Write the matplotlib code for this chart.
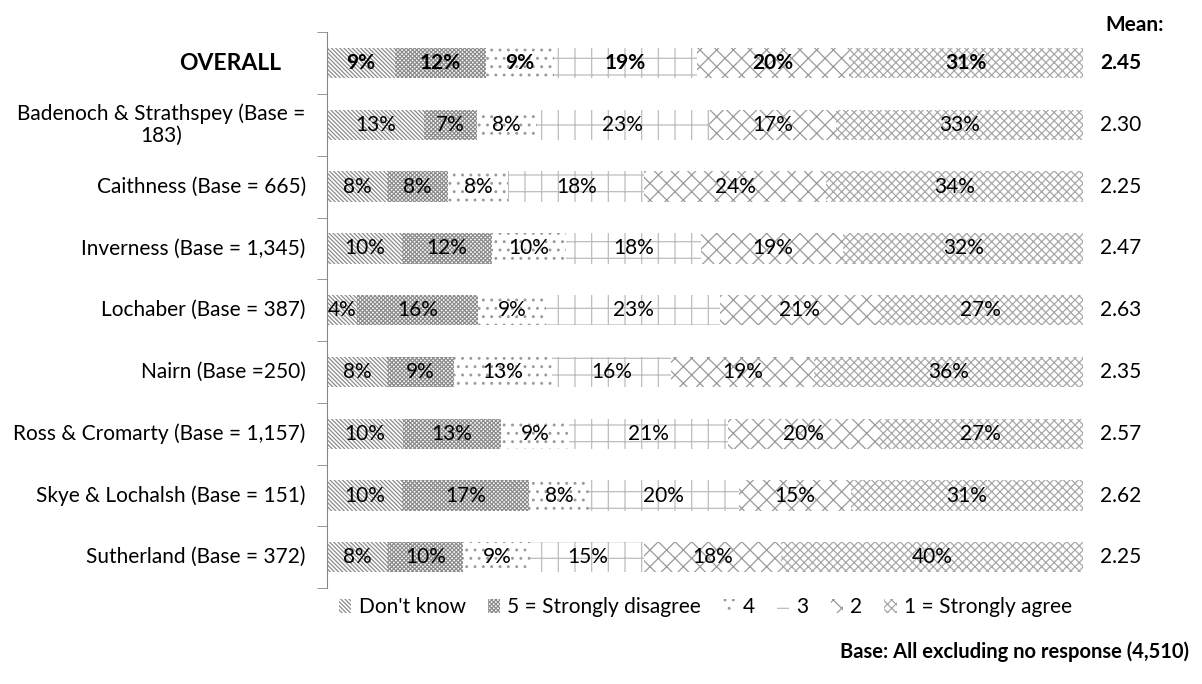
import matplotlib.pyplot as plt
import matplotlib.transforms as mtransforms
from matplotlib.patches import Patch
import numpy as np

plt.rcParams['font.family'] = ['Lato', 'DejaVu Sans']
plt.rcParams['hatch.linewidth'] = 0.9

areas = ['OVERALL', 'Badenoch & Strathspey (Base =\n183)', 'Caithness (Base = 665)',
         'Inverness (Base = 1,345)', 'Lochaber (Base = 387)', 'Nairn (Base =250)',
         'Ross & Cromarty (Base = 1,157)', 'Skye & Lochalsh (Base = 151)',
         'Sutherland (Base = 372)']
answers = ["Don't know", '5 = Strongly disagree', '4', '3', '2', '1 = Strongly agree']

dont_know = [9, 13, 8, 10, 4, 8, 10, 10, 8]
five = [12, 7, 8, 12, 16, 9, 13, 17, 10]
four = [9, 8, 8, 10, 9, 13, 9, 8, 9]
three = [19, 23, 18, 18, 23, 16, 21, 20, 15]
two = [20, 17, 24, 19, 21, 19, 20, 15, 18]
one = [31, 33, 34, 32, 27, 36, 27, 31, 40]
means = ['2.45', '2.30', '2.25', '2.47', '2.63', '2.35', '2.57', '2.62', '2.25']

hatches = ['\\\\\\\\\\\\\\\\', 'xxxxxxxx', '..', '+', 'xx', 'xxxx']
hcol = ['#8c8c8c', '#8c8c8c', '#9a9a9a', '#bdbdbd', '#9a9a9a', '#a8a8a8']

fig = plt.figure(figsize=(12.02, 6.84), dpi=100)
ax = fig.add_axes([0.272, 0.140, 0.629, 0.813])

vals = np.array([dont_know, five, four, three, two, one], dtype=float)
pct = vals / vals.sum(axis=0) * 100
y = np.arange(len(areas))
left = np.zeros(len(areas))
for k in range(len(answers)):
    ax.barh(y, pct[k], left=left, height=0.49, color='white',
            edgecolor=hcol[k], hatch=hatches[k], linewidth=0)
    for i in range(len(areas)):
        ax.text(left[i] + pct[k][i] / 2, y[i], '%d%%' % vals[k][i],
                ha='center', va='center', fontsize=15,
                fontweight='bold' if i == 0 else 'normal')
    left += pct[k]

ax.set_xlim(0, 100)
ax.set_ylim(len(areas) - 0.5, -0.5)
ax.set_xticks([])
ax.set_yticks([])
ax.set_yticks(np.arange(len(areas) + 1) - 0.5, minor=True)
ax.tick_params(axis='y', which='minor', length=7, color='#868686', labelleft=False)
for s in ['top', 'right', 'bottom']:
    ax.spines[s].set_visible(False)
ax.spines['left'].set_color('#868686')

tr = mtransforms.blended_transform_factory(ax.transAxes, ax.transData)
for i, a in enumerate(areas):
    if i == 0:
        ax.text(-0.061, i, a, transform=tr, ha='right', va='center',
                fontsize=16.5, fontweight='bold')
    else:
        ax.text(-0.028, i, a, transform=tr, ha='right', va='center',
                fontsize=15, multialignment='center', linespacing=1.1)
    ax.text(1.05, i, means[i], transform=tr, ha='center', va='center',
            fontsize=15, fontweight='bold' if i == 0 else 'normal')

fig.text(0.944, 0.963, 'Mean:', ha='center', va='center', fontsize=15, fontweight='bold')

handles = [Patch(facecolor='white', edgecolor=hcol[k], hatch=hatches[k], linewidth=0)
           for k in range(len(answers))]
fig.legend(handles, answers, loc='center', bbox_to_anchor=(0.587, 0.112), ncol=6,
           frameon=False, fontsize=15, handlelength=0.6, handleheight=0.6,
           handletextpad=0.35, columnspacing=1.05)

fig.text(0.989, 0.047, 'Base: All excluding no response (4,510)', ha='right',
         va='center', fontsize=14.5, fontweight='bold')

fig.savefig('out.png', dpi=100)
